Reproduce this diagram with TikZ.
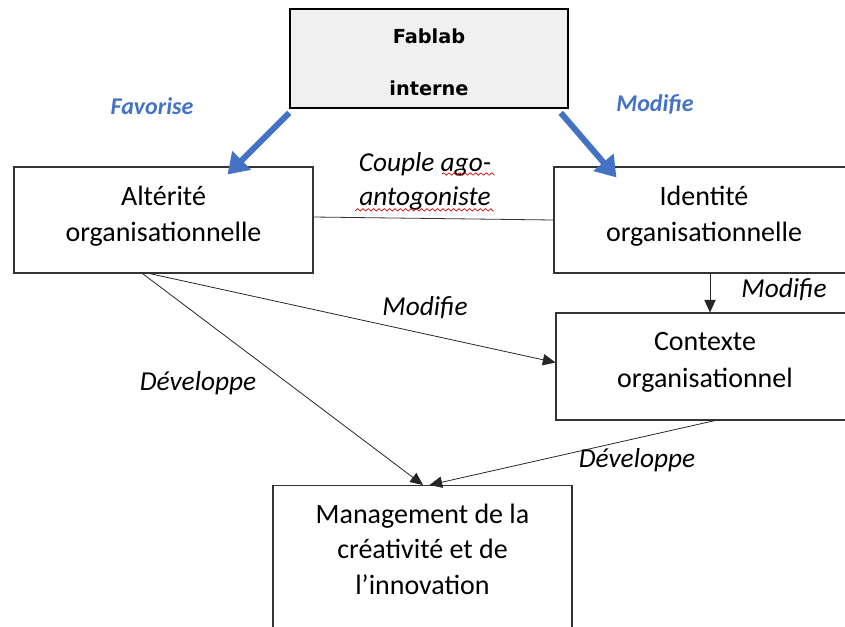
\documentclass[tikz,border=0pt]{standalone}
\usepackage{fontspec}
\setmainfont{Carlito}
\newfontfamily\fabfont{DejaVu Sans}
\usepackage{xcolor}
\usetikzlibrary{
  positioning,
  calc,
  arrows.meta,
  decorations.pathmorphing
}
\definecolor{bleu}{HTML}{4472C4}
\definecolor{fond}{HTML}{F0F0F0}

\begin{document}
\begin{tikzpicture}[x=0.75pt,y=-0.75pt,
  boite/.style={draw=black!80,line width=0.8pt,inner sep=0pt,align=center,text depth=9.5pt,font=\fontsize{21}{27.5}\selectfont},
  fleche/.style={-{Triangle[length=9.5pt,width=8.5pt]},line width=0.6pt,draw=black!85},
  bleue/.style={-{Triangle[length=15pt,width=19pt]},line width=4.5pt,draw=bleu},
  etiq/.style={font=\fontsize{20.5}{25.5}\selectfont\itshape,inner sep=0pt,align=center},
  etiqb/.style={font=\fontsize{18}{22}\selectfont\bfseries\itshape,text=bleu,inner sep=0pt}]
  \useasboundingbox (0,0) rectangle (845,626);
  \clip (0,0) rectangle (845,626);
  % boîtes
  \node[boite,fill=fond,draw=black,line width=1.2pt,minimum width=208.5pt,minimum height=74.25pt,
        text height=56pt,text depth=0pt,
        font=\fabfont\bfseries\fontsize{14.5}{39}\selectfont] (fablab) at (429,58.5) {Fablab\\interne};
  \node[boite,minimum width=224.25pt,minimum height=79.5pt] (alt) at (163.5,220) {Altérité\\organisationnelle};
  \node[boite,minimum width=225pt,minimum height=79.5pt] (ident) at (704,220) {Identité\\organisationnelle};
  \node[boite,minimum width=223.5pt,minimum height=80.25pt] (ctx) at (705,366.5) {Contexte\\organisationnel};
  \node[boite,anchor=north,minimum width=224.25pt,inner ysep=14pt,text depth=80pt,
        font=\fontsize{21}{26.5}\selectfont] (mgmt) at (422.5,485) {Management de la\\créativité et de\\l’innovation};
  % flèches
  \draw[bleue] ($(fablab.south west)+(0,4)$) -- ($(alt.north east)+(-86,8)$);
  \draw[bleue] ($(fablab.south east)+(-8,4)$) -- ($(ident.north west)+(63,11)$);
  \draw[draw=black!80,line width=0.6pt] ($(alt.east)+(0,-3)$) -- (ident.west);
  \draw[fleche] ($(ident.south)+(6,0)$) coordinate (i1) -- (i1 |- ctx.north);
  \draw[fleche] ($(alt.south)+(-14,0)$) -- ($(ctx.west)+(0,-4)$);
  \draw[fleche] ($(alt.south)+(-21,0)$) -- ($(mgmt.north)+(0.5,0)$);
  \draw[fleche] ($(ctx.south)+(10,0)$) -- ($(mgmt.north)+(7,0)$);
  % étiquettes
  \node[etiqb] (favorise) at (152,106) {Favorise};
  \node[etiqb] (modifie1) at (655,104) {Modifie};
  \node[etiq] (couple) at (425,181) {Couple ago-\\antogoniste};
  \node[etiq] (modifie2) at (784,290) {Modifie};
  \node[etiq] (modifie3) at (425,308) {Modifie};
  \node[etiq] (developpe1) at (198,383) {Développe};
  \node[etiq] (developpe2) at (637,460) {Développe};
  % soulignement
  \draw[red!80!black,line width=0.5pt,decorate,decoration={snake,segment length=4pt,amplitude=0.9pt}]
    (442,174) -- (494,174) (355,211) -- (494,211);
\end{tikzpicture}
\end{document}
